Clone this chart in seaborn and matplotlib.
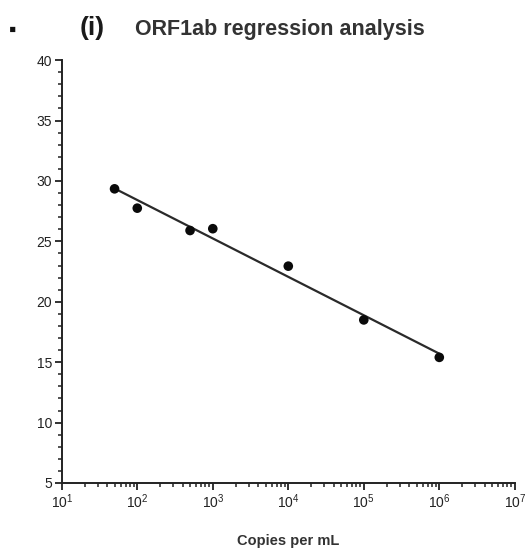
import numpy as np
import pandas as pd
import matplotlib
matplotlib.use("Agg")
import matplotlib.pyplot as plt
import matplotlib.ticker as mticker
import seaborn as sns

# dilution series (copies per mL) and measured Ct values
copies = [50, 100, 500, 1000, 1e4, 1e5, 1e6]
ct_vals = [29.35, 27.75, 25.9, 26.05, 22.95, 18.5, 15.4]
y_ticks = [5, 10, 15, 20, 25, 30, 35, 40]
x_ticks = [1e1, 1e2, 1e3, 1e4, 1e5, 1e6, 1e7]

sns.set_style("ticks")
plt.rcParams['font.family'] = ['Liberation Sans', 'DejaVu Sans']

df = pd.DataFrame({"copies": copies, "ct": ct_vals})

fig = plt.figure(figsize=(5.28, 5.52), dpi=100)
ax = fig.add_axes([0.117, 0.125, 0.858, 0.766])

sns.regplot(data=df, x="copies", y="ct", logx=True, ci=None, ax=ax,
            scatter_kws=dict(s=48, color="#0a0a0a", edgecolor="none", alpha=1, zorder=3),
            line_kws=dict(color="#2a2a2a", lw=1.6))

ax.set_xscale("log")
ax.set_xlim(10, 1e7)
ax.set_ylim(5, 40)
ax.set_yticks(y_ticks)
ax.set_xticks(x_ticks)
ax.yaxis.set_minor_locator(mticker.MultipleLocator(1))
ax.xaxis.set_minor_locator(mticker.LogLocator(base=10, subs=np.arange(2, 10), numticks=20))
ax.xaxis.set_minor_formatter(mticker.NullFormatter())

sns.despine(ax=ax)
for s in ["left", "bottom"]:
    ax.spines[s].set_linewidth(1.4)
    ax.spines[s].set_color("#222222")
ax.tick_params(which="major", direction="out", length=5, width=1.3,
               labelsize=10, colors="#222222", pad=2)
ax.tick_params(which="minor", direction="out", length=3, width=1.1, colors="#222222")
ax.set_xlabel("Copies per mL", fontsize=10.5, fontweight="bold", color="#333333", labelpad=16)
ax.set_ylabel("")

fig.text(0.150, 0.950, "(i)", fontsize=19, fontweight="bold", color="#1a1a1a", va="center")
fig.text(0.255, 0.947, "ORF1ab regression analysis", fontsize=15.5, fontweight="bold",
         color="#333333", va="center")
fig.text(0.016, 0.945, "\u25aa", fontsize=15, color="#111111", va="center")

fig.savefig("out.png", dpi=100)
